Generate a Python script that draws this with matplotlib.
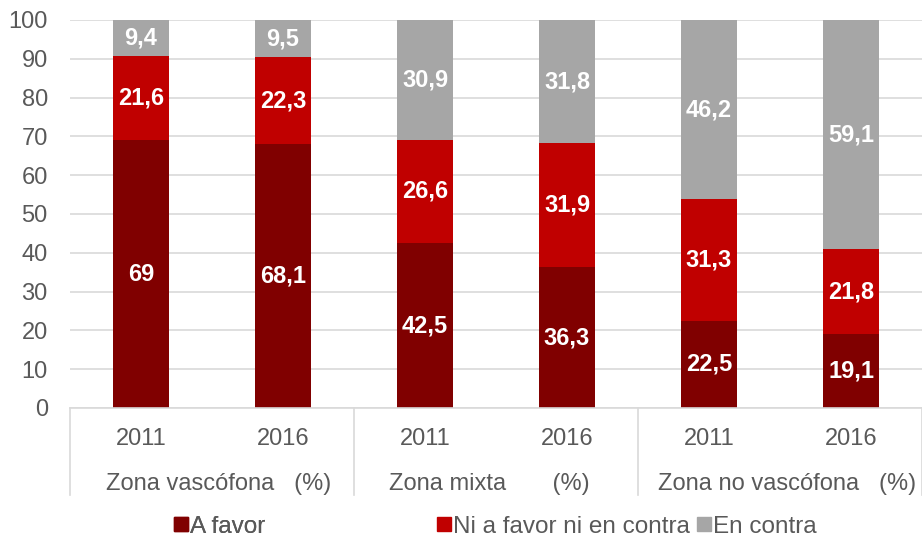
import matplotlib.pyplot as plt
import numpy as np
from matplotlib.lines import Line2D
from matplotlib.patches import Patch

plt.rcParams['font.family'] = ['Liberation Sans', 'DejaVu Sans']

years = ['2011', '2016', '2011', '2016', '2011', '2016']
zones = ['Zona vascófona   (%)', 'Zona mixta       (%)', 'Zona no vascófona   (%)']
a_favor = [69, 68.1, 42.5, 36.3, 22.5, 19.1]
ni_ni = [21.6, 22.3, 26.6, 31.9, 31.3, 21.8]
en_contra = [9.4, 9.5, 30.9, 31.8, 46.2, 59.1]

series = [
    ('A favor', a_favor, '#800000'),
    ('Ni a favor ni en contra', ni_ni, '#C00000'),
    ('En contra', en_contra, '#A6A6A6'),
]

fig = plt.figure(figsize=(9.22, 5.43), dpi=100)
ax = fig.add_axes([70 / 922, 1 - 408 / 543, 852 / 922, 388 / 543])

x = np.arange(len(years))
bottom = np.zeros(len(years))
for name, vals, col in series:
    vals = np.array(vals)
    ax.bar(x, vals, 0.39, bottom=bottom, color=col, zorder=2, label=name)
    for xi, b, v in zip(x, bottom, vals):
        txt = ('%g' % v).replace('.', ',')
        ax.text(xi, b + v / 2, txt, ha='center', va='center', color='white',
                fontsize=17, fontweight='bold', zorder=3)
    bottom += vals

ax.set_xlim(-0.5, 5.5)
ax.set_ylim(0, 100)
ax.set_yticks(range(0, 101, 10))
ax.yaxis.grid(True, color='#D9D9D9', linewidth=1.2, zorder=0)
ax.tick_params(axis='y', length=0, pad=16, labelsize=17, labelcolor='#595959')
ax.set_xticks([])
for s in ['top', 'right', 'left']:
    ax.spines[s].set_visible(False)
ax.spines['bottom'].set_color('#D9D9D9')
ax.spines['bottom'].set_linewidth(1.2)

# category labels
for xi, yr in zip(x, years):
    ax.text(xi, -0.08, yr, transform=ax.get_xaxis_transform(), ha='center',
            va='center', fontsize=17, color='#595959')
zone_x = [0.55, 2.45, 4.55]
for zx, z in zip(zone_x, zones):
    ax.text(zx, -0.196, z, transform=ax.get_xaxis_transform(),
            ha='center', va='center', fontsize=17, color='#595959')
for sx in [-0.5, 1.5, 3.5, 5.5]:
    ax.add_line(Line2D([sx, sx], [0, -0.224], transform=ax.get_xaxis_transform(),
                       color='#D9D9D9', linewidth=1.2, clip_on=False))

handles = [Patch(color=c) for _, _, c in series]
names = [n for n, _, _ in series]
kw = dict(frameon=False, fontsize=17.5, handlelength=0.55, handleheight=0.55,
          handletextpad=0.1, labelcolor='#595959', borderpad=0)
leg1 = fig.legend(handles[:1], names[:1], loc='center', bbox_to_anchor=(220 / 922, 0.03), **kw)
fig.add_artist(leg1)
fig.legend(handles[1:], names[1:], loc='center', bbox_to_anchor=(627 / 922, 0.03),
           ncol=2, columnspacing=0.3, **kw)

fig.savefig('out.png', dpi=100)
